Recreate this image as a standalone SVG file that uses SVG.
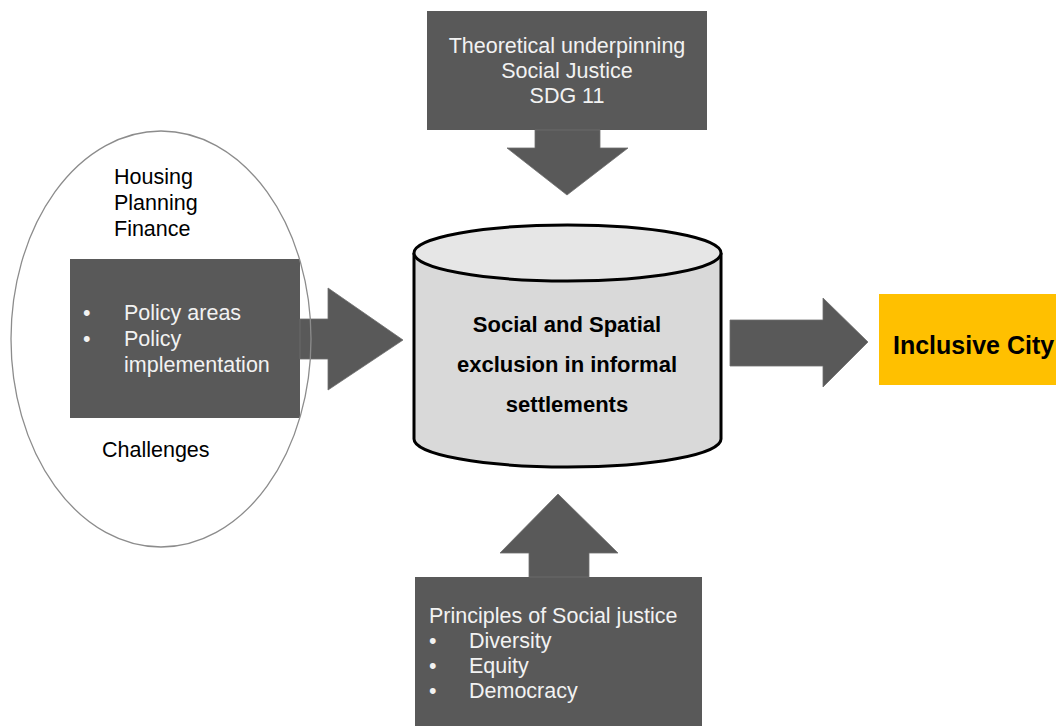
<svg xmlns="http://www.w3.org/2000/svg" width="1056" height="726" viewBox="0 0 1056 726">
<style>
.dark{fill:#595959;}
.arrow{fill:#595959;stroke:#6f6f6f;stroke-width:0.8;}
.wt{font-family:"Liberation Sans",Arial,sans-serif;font-size:21.5px;fill:#f2f2f2;}
.bt{font-family:"Liberation Sans",Arial,sans-serif;font-size:21.5px;fill:#000;}
.bold{font-family:"Liberation Sans",Arial,sans-serif;font-size:22px;font-weight:bold;fill:#000;}
</style>
<rect width="1056" height="726" fill="#ffffff"/>
<g id="theory">
<rect class="dark" x="427" y="11" width="280" height="119"/>
<text class="wt" text-anchor="middle" x="567" y="53">Theoretical underpinning</text>
<text class="wt" text-anchor="middle" x="567" y="78">Social Justice</text>
<text class="wt" text-anchor="middle" x="567" y="103">SDG 11</text>
</g>
<g id="policy">
<rect class="dark" x="70" y="259" width="230" height="159"/>
<text class="wt" x="83" y="320">•</text>
<text class="wt" x="124" y="320">Policy areas</text>
<text class="wt" x="83" y="346">•</text>
<text class="wt" x="124" y="346">Policy</text>
<text class="wt" x="124" y="372">implementation</text>
</g>
<g id="principles">
<rect class="dark" x="415" y="577" width="287" height="149"/>
<text class="wt" x="429" y="623">Principles of Social justice</text>
<text class="wt" x="429" y="648">•</text>
<text class="wt" x="469" y="648">Diversity</text>
<text class="wt" x="429" y="673">•</text>
<text class="wt" x="469" y="673">Equity</text>
<text class="wt" x="429" y="698">•</text>
<text class="wt" x="469" y="698">Democracy</text>
</g>
<g id="connectors">
<polygon class="arrow" points="535,130 600,130 600,148 628,148 567,195 507,148 535,148"/>
<polygon class="arrow" points="300,319 328,319 328,288 403,340 328,390 328,359 300,359"/>
<polygon class="arrow" points="529,577 589,577 589,553 618,553 558,494 500,553 529,553"/>
<polygon class="arrow" points="730,320 823,320 823,298 868,342 823,387 823,366 730,366"/>
</g>
<g id="challenges">
<ellipse cx="161" cy="339" rx="150" ry="208" fill="none" stroke="#8c8c8c" stroke-width="1.3"/>
<text class="bt" x="114" y="184">Housing</text>
<text class="bt" x="114" y="210">Planning</text>
<text class="bt" x="114" y="236">Finance</text>
<text class="bt" x="102" y="457">Challenges</text>
</g>
<g id="exclusion">
<path d="M414,253 L414,439 A153.5,28 0 0 0 721,439 L721,253" fill="#d9d9d9" stroke="#000" stroke-width="3"/>
<ellipse cx="567.5" cy="253" rx="153.5" ry="28" fill="#e6e6e6" stroke="#000" stroke-width="3"/>
<text class="bold" text-anchor="middle" x="567" y="332">Social and Spatial</text>
<text class="bold" text-anchor="middle" x="567" y="372">exclusion in informal</text>
<text class="bold" text-anchor="middle" x="567" y="412">settlements</text>
</g>
<g id="inclusive">
<rect x="879" y="294" width="177" height="91" fill="#ffc000"/>
<text x="893" y="354" font-family="Liberation Sans,Arial,sans-serif" font-size="25" font-weight="bold" fill="#000">Inclusive City</text>
</g>
</svg>
